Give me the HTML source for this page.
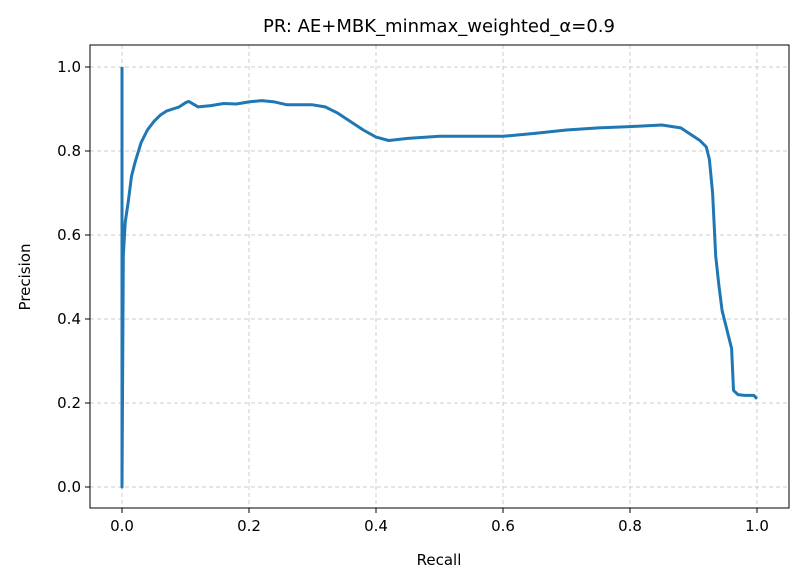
<!DOCTYPE html>
<html><head><meta charset="utf-8"><style>
body{margin:0;background:#fff;font-family:"Liberation Sans","DejaVu Sans",sans-serif;overflow:hidden}
</style></head><body>
<svg id="chart" width="803" height="586" xmlns="http://www.w3.org/2000/svg" font-family="DejaVu Sans, Liberation Sans, sans-serif" style="display:block">
<rect width="803" height="586" fill="#fff"/>
<text x="439" y="32" text-anchor="middle" font-size="18">PR: AE+MBK_minmax_weighted_α=0.9</text>
<g id="grid"></g>
<g id="ticks"></g>
<path id="curve" fill="none" stroke="#1f77b4" stroke-width="3" stroke-linejoin="round"/>
<rect x="90" y="45" width="699" height="463" fill="none" stroke="#000" stroke-width="1"/>
<text x="439" y="565" text-anchor="middle" font-size="15">Recall</text>
<text transform="translate(30,277) rotate(-90)" text-anchor="middle" font-size="15">Precision</text>
</svg>
<script>
const recall=[0,0,0.002,0.005,0.01,0.015,0.02,0.03,0.04,0.05,0.06,0.07,0.08,0.09,0.1,0.105,0.12,0.14,0.16,0.18,0.2,0.22,0.24,0.26,0.28,0.3,0.32,0.34,0.36,0.38,0.4,0.42,0.45,0.5,0.55,0.6,0.65,0.7,0.75,0.8,0.85,0.88,0.9,0.91,0.92,0.925,0.93,0.935,0.94,0.945,0.95,0.955,0.96,0.963,0.97,0.98,0.995,1.0];
const precision=[1,0,0.55,0.63,0.68,0.74,0.77,0.82,0.85,0.87,0.885,0.895,0.9,0.905,0.915,0.918,0.905,0.908,0.913,0.912,0.917,0.92,0.917,0.91,0.91,0.91,0.905,0.89,0.87,0.85,0.833,0.825,0.83,0.835,0.835,0.835,0.842,0.85,0.855,0.858,0.862,0.855,0.835,0.825,0.81,0.78,0.7,0.55,0.48,0.42,0.39,0.36,0.33,0.23,0.22,0.218,0.218,0.21];
const xTicks=[0,0.2,0.4,0.6,0.8,1.0];
const yTicks=[0,0.2,0.4,0.6,0.8,1.0];
const xTickLabels=["0.0","0.2","0.4","0.6","0.8","1.0"];
const yTickLabels=["0.0","0.2","0.4","0.6","0.8","1.0"];
const X=v=>122+v*635, Y=v=>487-v*420;
const ns="http://www.w3.org/2000/svg";
const grid=document.getElementById('grid'), ticks=document.getElementById('ticks');
function mk(tag,attrs,parent,txt){const e=document.createElementNS(ns,tag);for(const k in attrs)e.setAttribute(k,attrs[k]);if(txt!==undefined)e.textContent=txt;parent.appendChild(e);return e;}
xTicks.forEach((t,i)=>{
  const g=mk('line',{x1:X(t),x2:X(t),y1:45,y2:508,stroke:'#ccc','stroke-dasharray':'4,3'},grid);
  
  
  const tk=mk('line',{x1:X(t),x2:X(t),y1:508,y2:513,stroke:'#000'},ticks);
  
  
  const l=mk('text',{x:X(t),y:531,'text-anchor':'middle','font-size':'15'},ticks,xTickLabels[i]);
  
  
});
yTicks.forEach((t,i)=>{
  const g=mk('line',{x1:90,x2:789,y1:Y(t),y2:Y(t),stroke:'#ccc','stroke-dasharray':'4,3'},grid);
  
  
  const tk=mk('line',{x1:85,x2:90,y1:Y(t),y2:Y(t),stroke:'#000'},ticks);
  
  
  const l=mk('text',{x:81,y:Y(t)+5,'text-anchor':'end','font-size':'15'},ticks,yTickLabels[i]);
  
  
});
document.getElementById('curve').setAttribute('d',recall.map((r,i)=>(i?'L':'M')+X(r).toFixed(1)+','+Y(precision[i]).toFixed(1)).join(''));
</script>
</body></html>
